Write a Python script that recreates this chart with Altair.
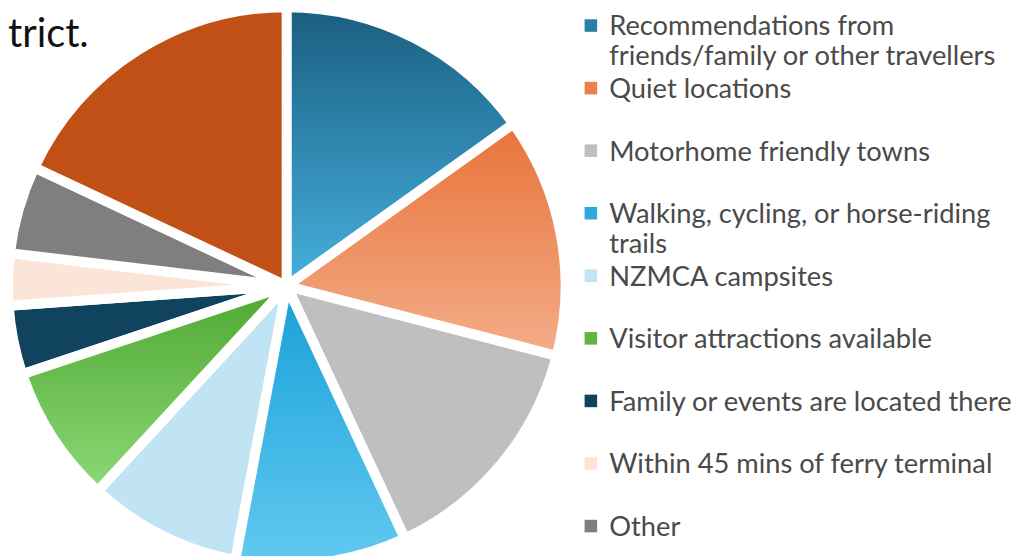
import altair as alt
import pandas as pd

# ---- data (share of responses, %) ----
categories = [
    "Recommendations from friends/family or other travellers",
    "Quiet locations",
    "Motorhome friendly towns",
    "Walking, cycling, or horse-riding trails",
    "NZMCA campsites",
    "Visitor attractions available",
    "Family or events are located there",
    "Within 45 mins of ferry terminal",
    "Other",
    "Unlabelled (legend entry cut off)",
]
values = [15.1, 13.9, 14.0, 9.9, 8.9, 8.0, 4.0, 3.0, 5.1, 18.0]

legend_lines = [
    "Recommendations from|friends/family or other travellers",
    "Quiet locations",
    "Motorhome friendly towns",
    "Walking, cycling, or horse-riding|trails",
    "NZMCA campsites",
    "Visitor attractions available",
    "Family or events are located there",
    "Within 45 mins of ferry terminal",
    "Other",
]

colors = ["#2a7fa8", "#ec7f4a", "#bfbfbf", "#2fa8dc", "#c1e4f4",
          "#62b442", "#10445e", "#fbe4d8", "#7f7f7f", "#c05016"]

gradient_tops = {
    "Recommendations from friends/family or other travellers": ("#1a5e80", "#46b0de"),
    "Quiet locations": ("#e8733a", "#f3ad89"),
    "Walking, cycling, or horse-riding trails": ("#18a0d8", "#62c9f1"),
    "Visitor attractions available": ("#4ea832", "#8cd876"),
}

title_text = "trict."

# ---- chart ----
df = pd.DataFrame({"category": categories, "value": values,
                   "order": list(range(len(categories)))})
total = float(sum(values))

color_scale = alt.Scale(domain=categories, range=colors)

base = (alt.Chart(df)
        .transform_window(cum="sum(value)", sort=[alt.SortField("order")],
                          frame=[None, 0])
        .transform_calculate(start="datum.cum - datum.value"))

theta = alt.Theta("start:Q", scale=alt.Scale(domain=[0, total]))
arc_props = dict(outerRadius=281, stroke="white", strokeWidth=10,
                 strokeJoin="round")
cx, cy = 281, 278

pie = base.mark_arc(**arc_props).encode(
    theta=theta, theta2="cum:Q",
    color=alt.Color("category:N", scale=color_scale, legend=None),
    x=alt.value(cx), y=alt.value(cy),
)

layers = [pie]
for cat, (c0, c1) in gradient_tops.items():
    grad = alt.Gradient(
        gradient="linear",
        stops=[alt.GradientStop(color=c0, offset=0),
               alt.GradientStop(color=c1, offset=1)],
        x1=0, x2=0, y1=0, y2=1,
    )
    layers.append(
        base.transform_filter(alt.datum.category == cat)
        .mark_arc(fill=grad, **arc_props)
        .encode(theta=theta, theta2="cum:Q", x=alt.value(cx), y=alt.value(cy))
    )

legend_df = pd.DataFrame({"category": categories[:9], "label": legend_lines})
ys = alt.Y("category:N",
           scale=alt.Scale(type="point", domain=categories[:9],
                           range=[15.5, 520], padding=0),
           axis=None)

squares = alt.Chart(legend_df).mark_square(size=160, opacity=1).encode(
    x=alt.value(587.5), y=ys,
    color=alt.Color("category:N", scale=color_scale, legend=None),
)
labels = alt.Chart(legend_df).mark_text(
    align="left", baseline="alphabetic", dy=10, font="Lato", fontSize=27.5,
    color="#4a4a4a", lineBreak="|", lineHeight=30,
).encode(x=alt.value(606), y=ys, text="label:N")

title = alt.Chart(pd.DataFrame({"t": [title_text]})).mark_text(
    align="left", baseline="alphabetic", font="Lato", fontSize=40,
    color="#111111",
).encode(x=alt.value(0), y=alt.value(37), text="t:N")

chart = (alt.layer(*layers, squares, labels, title)
         .properties(width=1014, height=548, padding=0, autosize="none")
         .configure_view(stroke=None))

chart.save("out.html", embed_options={"renderer": "svg", "actions": False})
